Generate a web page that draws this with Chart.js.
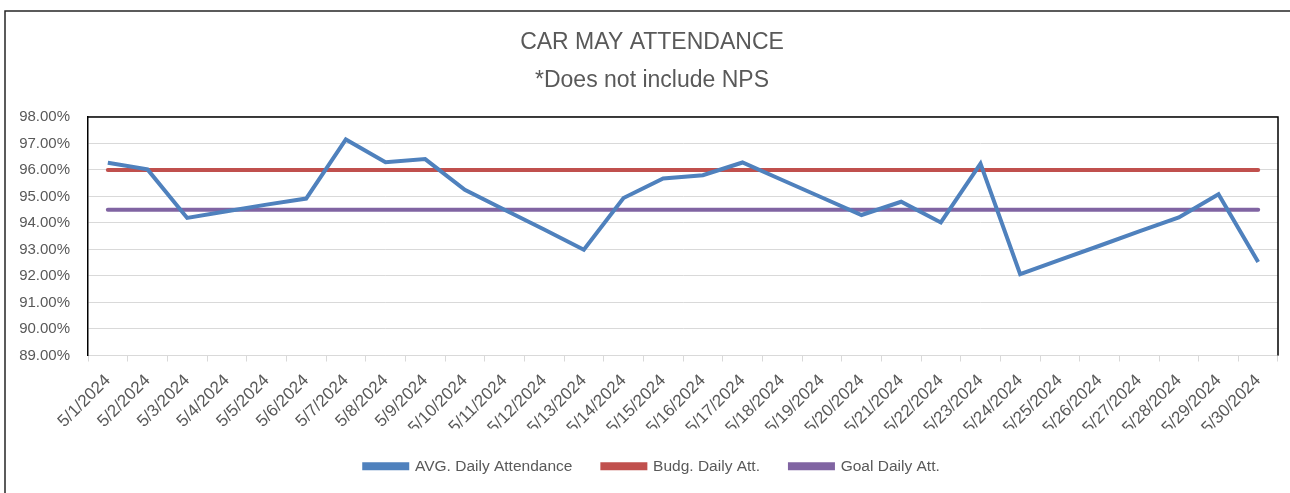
<!DOCTYPE html>
<html>
<head>
<meta charset="utf-8">
<script src="https://cdn.jsdelivr.net/npm/chart.js@4.4.1/dist/chart.umd.min.js"></script>
<style>
  html, body { margin: 0; padding: 0; background: #fff; }
  #wrap { position: absolute; left: 0; top: 0; width: 1290px; height: 493px; }
</style>
</head>
<body>
<div id="wrap"><canvas id="graficoAsistencia" width="1290" height="493"></canvas></div>
<script>
// fechas del mes
const fechas = ['5/1/2024', '5/2/2024', '5/3/2024', '5/4/2024', '5/5/2024', '5/6/2024', '5/7/2024', '5/8/2024',
    '5/9/2024', '5/10/2024', '5/11/2024', '5/12/2024', '5/13/2024', '5/14/2024', '5/15/2024', '5/16/2024',
    '5/17/2024', '5/18/2024', '5/19/2024', '5/20/2024', '5/21/2024', '5/22/2024', '5/23/2024', '5/24/2024',
    '5/25/2024', '5/26/2024', '5/27/2024', '5/28/2024', '5/29/2024', '5/30/2024'];

const asistenciaPromedio = [96.27, 96.02, 94.19, 94.44, 94.69, 94.92, 97.15, 96.29, 96.41, 95.25,
    94.50, 93.75, 92.99, 94.94, 95.68, 95.80, 96.28, 95.62, 94.96, 94.30,
    94.80, 94.02, 96.24, 92.07, 92.61, 93.14, 93.68, 94.21, 95.08, 92.53];

const presupuesto = [96, 96, 96, 96, 96, 96, 96, 96, 96, 96, 96, 96, 96, 96, 96,
    96, 96, 96, 96, 96, 96, 96, 96, 96, 96, 96, 96, 96, 96, 96];

const meta = [94.5, 94.5, 94.5, 94.5, 94.5, 94.5, 94.5, 94.5, 94.5, 94.5, 94.5, 94.5, 94.5, 94.5, 94.5,
    94.5, 94.5, 94.5, 94.5, 94.5, 94.5, 94.5, 94.5, 94.5, 94.5, 94.5, 94.5, 94.5, 94.5, 94.5];

const ticksY = [89, 90, 91, 92, 93, 94, 95, 96, 97, 98];

const fuente = "'Liberation Sans', Arial, sans-serif";
const gris = '#595959';

// bordes: marco exterior (arriba/izquierda) y borde superior/derecho del area de trazado
const bordes = {
    id: 'bordes',
    beforeDraw(chart) {
        const c = chart.ctx;
        c.save();
        c.strokeStyle = '#262626';
        c.lineWidth = 1.5;
        c.beginPath();
        c.moveTo(5, 493);
        c.lineTo(5, 11);
        c.lineTo(1290, 11);
        c.stroke();
        c.restore();
    },
    afterDatasetsDraw(chart) {
        const a = chart.chartArea;
        const c = chart.ctx;
        c.save();
        c.strokeStyle = '#000';
        c.lineWidth = 1.5;
        c.beginPath();
        c.moveTo(a.left, a.top);
        c.lineTo(a.right, a.top);
        c.lineTo(a.right, a.bottom);
        c.stroke();
        c.restore();
    }
};

const ctx = document.getElementById('graficoAsistencia').getContext('2d');
new Chart(ctx, {
    type: 'line',
    data: {
        labels: fechas,
        datasets: [{
            label: 'AVG. Daily Attendance',
            data: asistenciaPromedio,
            borderColor: '#4f81bd',
            backgroundColor: '#4f81bd',
            borderWidth: 4,
            pointRadius: 0,
            tension: 0
        }, {
            label: 'Budg. Daily Att.',
            data: presupuesto,
            borderColor: '#c0504d',
            backgroundColor: '#c0504d',
            borderWidth: 4,
            pointRadius: 0,
            borderCapStyle: 'round'
        }, {
            label: 'Goal Daily Att.',
            data: meta,
            borderColor: '#8064a2',
            backgroundColor: '#8064a2',
            borderWidth: 4,
            pointRadius: 0,
            borderCapStyle: 'round'
        }]
    },
    options: {
        responsive: false,
        animation: false,
        layout: { padding: { left: 14, right: 0, top: 0, bottom: 9 } },
        plugins: {
            title: {
                display: true,
                text: ['CAR MAY ATTENDANCE', '*Does not include NPS'],
                color: gris,
                font: { family: fuente, size: 23, weight: 'normal', lineHeight: 1.65 },
                padding: { top: 24, bottom: 17 }
            },
            legend: {
                position: 'bottom',
                labels: {
                    color: gris,
                    font: { family: fuente, size: 15.5 },
                    boxWidth: 43,
                    boxHeight: 4,
                    padding: 30
                }
            },
            tooltip: { enabled: false }
        },
        scales: {
            x: {
                offset: true,
                grid: { offset: true, drawOnChartArea: false, drawTicks: true, tickLength: 6, color: '#d9d9d9' },
                border: { color: '#d9d9d9', width: 1 },
                ticks: {
                    color: gris,
                    font: { family: fuente, size: 17 },
                    minRotation: 45,
                    maxRotation: 45,
                    autoSkip: false,
                    padding: 9
                },
                afterFit(scale) { scale.height = 73; }
            },
            y: {
                min: 89,
                max: 98,
                afterBuildTicks(scale) { scale.ticks = ticksY.map(v => ({ value: v })); },
                grid: { color: '#d9d9d9', drawTicks: false },
                border: { color: '#000', width: 1.5 },
                ticks: {
                    color: gris,
                    font: { family: fuente, size: 15 },
                    padding: 18,
                    callback: function(value) { return Number(value).toFixed(2) + '%'; }
                },
                afterFit(scale) { scale.width = 74; }
            },
            // eje vacio a la derecha, solo para dejar margen
            y2: {
                type: 'linear',
                position: 'right',
                grid: { display: false },
                border: { display: false },
                ticks: { display: false },
                afterFit(scale) { scale.width = 12; }
            }
        }
    },
    plugins: [bordes]
});
</script>
</body>
</html>
